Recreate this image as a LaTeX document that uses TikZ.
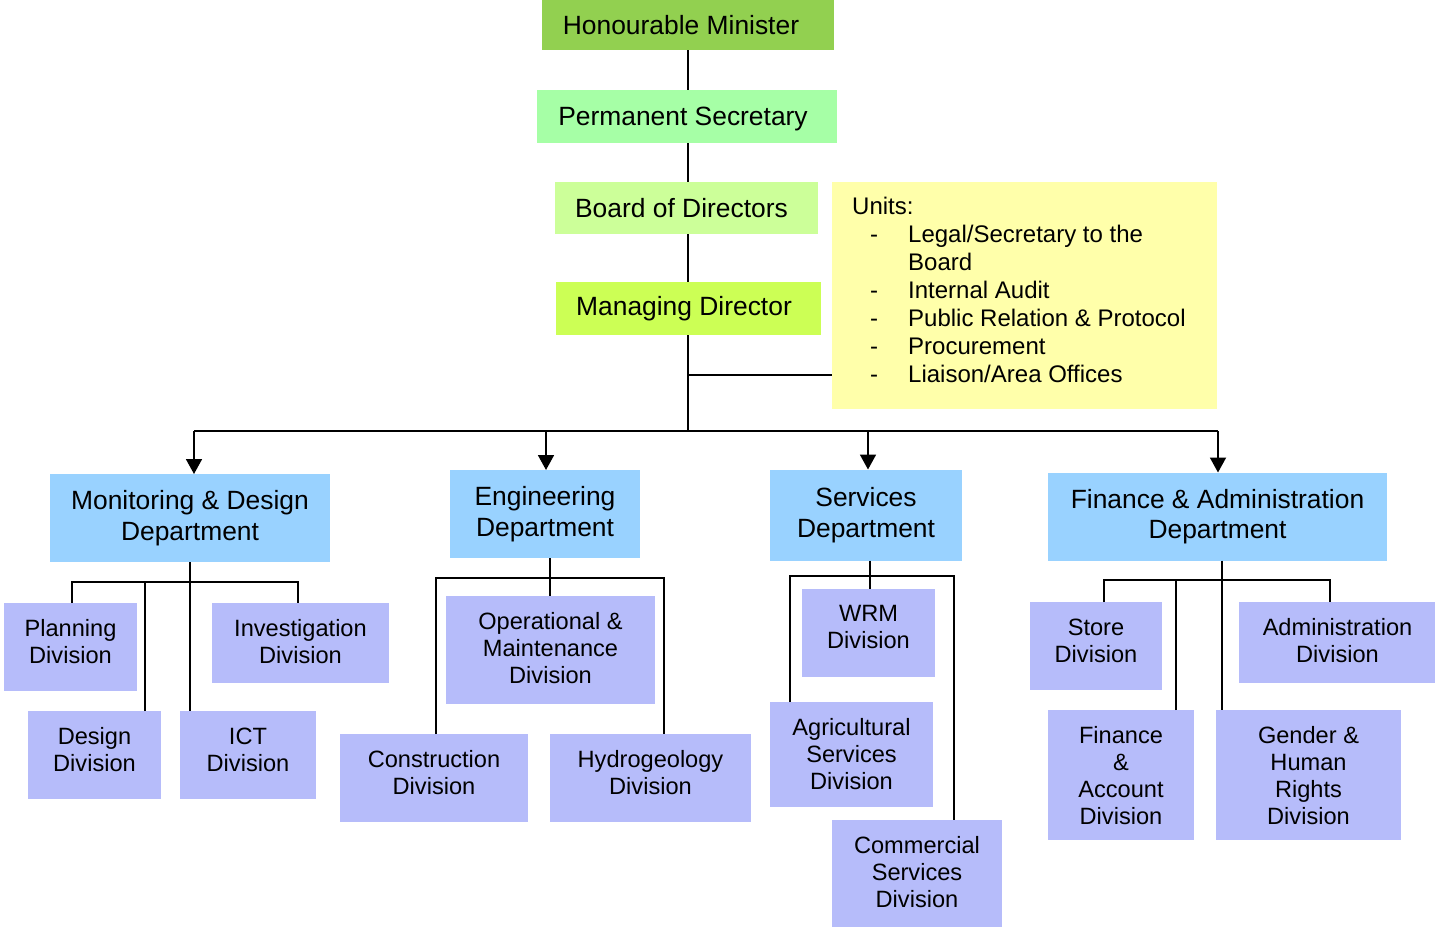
\documentclass[tikz,border=0pt]{standalone}
\usepackage{fontspec}
\setmainfont{Liberation Sans}
\usetikzlibrary{arrows.meta,backgrounds}

\definecolor{cMinister}{RGB}{146,208,80}
\definecolor{cSecretary}{RGB}{166,255,166}
\definecolor{cBoard}{RGB}{204,255,153}
\definecolor{cManaging}{RGB}{204,255,85}
\definecolor{cUnits}{RGB}{255,255,170}
\definecolor{cDept}{RGB}{153,210,255}
\definecolor{cDiv}{RGB}{182,188,250}

\tikzset{
  bx/.style 2 args={rectangle, inner sep=0pt, outer sep=0pt, align=center,
    minimum width=#1pt, minimum height=#2pt},
  topfont/.style={inner sep=0pt, font=\fontsize{26.4}{30}\selectfont},
  deptbox/.style={fill=cDept, font=\fontsize{26.4}{30.5}\selectfont},
  divbox/.style={fill=cDiv},
  divtext/.style={anchor=north, inner sep=0pt, align=center,
    font=\fontsize{23.6}{27}\selectfont},
  link/.style={line width=1.8pt, draw=black},
  down/.style={link, -{Triangle[width=16pt,length=15pt]}},
}

% a division: filled box with its text set from the top edge
\newcommand{\division}[6]{%
  \node[bx={#4}{#5}, divbox] (#1) at (#2,#3) {};
  \node[divtext] (#1-t) at ([yshift=-16.5pt]#1.north) {#6};}

\begin{document}
\begin{tikzpicture}[x=1pt, y=-1pt]
\useasboundingbox (0,0) rectangle (1435,929);

% top of the hierarchy
\node[bx={292}{50}, fill=cMinister] (hm) at (688,25) {};
\node[topfont] (hm-t) at (681,25) {Honourable Minister};
\node[bx={300}{53}, fill=cSecretary] (ps) at (687,116.5) {};
\node[topfont] (ps-t) at (683,119) {Permanent Secretary};
\node[bx={263}{52}, fill=cBoard] (bd) at (686.5,208) {};
\node[topfont] (bd-t) at (681.5,208) {Board of Directors};
\node[bx={265}{53}, fill=cManaging] (md) at (688.5,308.5) {};
\node[topfont] (md-t) at (684,309) {Managing Director};

% staff units attached to the managing director
\node[bx={385}{227}, fill=cUnits] (units) at (1024.5,295.5) {};
\node[anchor=north west, inner sep=0pt, font=\fontsize{24}{28}\selectfont] (unitlist) at (852,195)
{\begin{tabular}{@{}p{56pt}@{}l@{}}
\multicolumn{2}{@{}l@{}}{Units:}\\
\hspace{18pt}- & Legal/Secretary to the\\
 & Board\\
\hspace{18pt}- & Internal Audit\\
\hspace{18pt}- & Public Relation \& Protocol\\
\hspace{18pt}- & Procurement\\
\hspace{18pt}- & Liaison/Area Offices
\end{tabular}};

% departments
\node[bx={280}{88}, deptbox] (mdd) at (190,518) {Monitoring \& Design\\Department};
\node[bx={190}{88}, deptbox] (edd) at (545,514) {Engineering\\Department};
\node[bx={192}{91}, deptbox] (sdd) at (866,515) {Services\\Department};
\node[bx={339}{88}, deptbox] (fdd) at (1217.5,516.5) {Finance \& Administration\\Department};

% divisions: monitoring & design
\division{plan}{70.5}{647}{133}{88}{Planning\\Division}
\division{inv}{300.5}{643}{177}{80}{Investigation\\Division}
\division{des}{94.5}{755}{133}{88}{Design\\Division}
\division{ict}{248}{755}{136}{88}{ICT\\Division}

% divisions: engineering
\division{om}{550.5}{650}{209}{108}{Operational \&\\Maintenance\\Division}
\division{con}{434}{778}{188}{88}{Construction\\Division}
\division{hyd}{650.5}{778}{201}{88}{Hydrogeology\\Division}

% divisions: services
\division{wrm}{868.5}{633}{133}{88}{WRM\\Division}
\division{agr}{851.5}{754.5}{163}{105}{Agricultural\\Services\\Division}
\division{com}{917}{873.5}{170}{107}{Commercial\\Services\\Division}

% divisions: finance & administration
\division{sto}{1096}{646}{132}{88}{Store\\Division}
\division{adm}{1337.5}{642.5}{197}{81}{Administration\\Division}
\division{fa}{1121}{775}{146}{130}{Finance\\\&\\Account\\Division}
\division{gen}{1308.5}{775}{185}{130}{Gender \&\\Human\\Rights\\Division}

% junction points
\coordinate (bus) at (688,431);
\coordinate (uj) at (688,375);

\begin{scope}[on background layer]
  % main trunk
  \draw[link] (hm) -- (hm.south |- bus);
\end{scope}
\draw[link] (uj) -- (units.west |- uj);

% distribution bus with arrows to the departments
\draw[link] ([xshift=4pt]mdd.north |- bus) -- ([xshift=0.5pt]fdd.north |- bus);
\draw[down] ([xshift=4pt]mdd.north |- bus) -- ([xshift=4pt]mdd.north);
\draw[down] ([xshift=1pt]edd.north |- bus) -- ([xshift=1pt]edd.north);
\draw[down] ([xshift=2pt]sdd.north |- bus) -- ([xshift=2pt]sdd.north);
\draw[down] ([xshift=0.5pt]fdd.north |- bus) -- ([xshift=0.5pt]fdd.north);

% monitoring & design branches
\coordinate (mb) at (190,582);
\draw[link] ([xshift=1.5pt]plan.north) |- (mb) -| ([xshift=-2.5pt]inv.north);
\draw[link] (mdd.south) -- (mdd.south |- ict.north);
\draw[link] ([xshift=50.5pt]des.north) -- ([xshift=50.5pt]des.north |- mb);

% engineering branches
\coordinate (eb) at (550,578);
\draw[link] (eb |- edd.south) -- (eb |- om.north);
\draw[link] ([xshift=2pt]con.north) |- (eb) -| ([xshift=13.5pt]hyd.north);

% services branches
\coordinate (sb) at (870,576);
\draw[link] ([xshift=1.5pt]wrm.north |- sdd.south) -- ([xshift=1.5pt]wrm.north);
\draw[link] ([xshift=-61.5pt]agr.north) |- (sb) -| ([xshift=37pt]com.north);

% finance & administration branches
\coordinate (fb) at (1222,580);
\draw[link] (fb |- fdd.south) -- (fb |- gen.north);
\draw[link] ([xshift=8pt]sto.north) |- (fb) -| ([xshift=-7.5pt]adm.north);
\draw[link] ([xshift=55pt]fa.north) -- ([xshift=55pt]fa.north |- fb);

\end{tikzpicture}
\end{document}
